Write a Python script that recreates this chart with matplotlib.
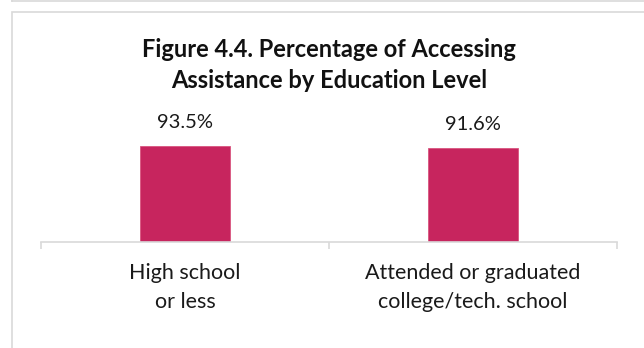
import matplotlib.pyplot as plt
from matplotlib.patches import Rectangle
from matplotlib.lines import Line2D

# Data
categories = ["High school\nor less", "Attended or graduated\ncollege/tech. school"]
values = [93.5, 91.6]
title_lines = ["Figure 4.4. Percentage of Accessing", "Assistance by Education Level"]

bar_color = "#C7255E"
grid_gray = "#D9D9D9"

plt.rcParams["font.family"] = ["Lato", "DejaVu Sans"]

W, H = 644, 348
fig = plt.figure(figsize=(W / 100, H / 100), dpi=100)


def fx(px):
    return px / W


def fy(py):
    return 1 - py / H


# Chart frame and the edge of the box above it
fig.add_artist(Rectangle((fx(11.5), fy(400)), 1.2, fy(11.5) - fy(400),
                         transform=fig.transFigure, fill=False,
                         edgecolor=grid_gray, lw=1.2))
fig.add_artist(Line2D([fx(11.5), 1.05], [fy(1.2), fy(1.2)],
                      transform=fig.transFigure, color=grid_gray, lw=1.2))
fig.add_artist(Line2D([fx(11.5), fx(11.5)], [fy(1.2), 1.05],
                      transform=fig.transFigure, color=grid_gray, lw=1.2))

ax = fig.add_axes([fx(41), fy(242), fx(617) - fx(41), fy(139.3) - fy(242)])
x = list(range(len(values)))
ax.bar(x, values, width=0.3125, color=bar_color, edgecolor="#D9557F",
       linewidth=0.6)
ax.set_xlim(-0.5, len(values) - 0.5)
ax.set_ylim(0, 100)

for xi, v in zip(x, values):
    ax.annotate(f"{v:.1f}%", (xi, v), xytext=(0, 13), textcoords="offset points",
                ha="center", va="baseline", fontsize=14.5, color="#1a1a1a")

for s in ["top", "right", "left"]:
    ax.spines[s].set_visible(False)
ax.spines["bottom"].set_color(grid_gray)
ax.spines["bottom"].set_linewidth(1.2)
ax.set_yticks([])
ax.set_xticks(x)
ax.set_xticklabels(categories, fontsize=15.5, color="#1a1a1a")
ax.tick_params(axis="x", which="major", length=0, pad=15)
ax.set_xticks([-0.5, 0.5, 1.5], minor=True)
ax.tick_params(axis="x", which="minor", length=5, width=1.2, color=grid_gray)
for t in ax.get_xticklabels():
    t.set_linespacing(1.6)

fig.text(fx(329), fy(56.7), title_lines[0], ha="center", va="baseline",
         fontsize=17, fontweight="bold", color="#111111")
fig.text(fx(329), fy(88), title_lines[1], ha="center", va="baseline",
         fontsize=17, fontweight="bold", color="#111111")

fig.savefig("out.png", dpi=100, facecolor="white")
